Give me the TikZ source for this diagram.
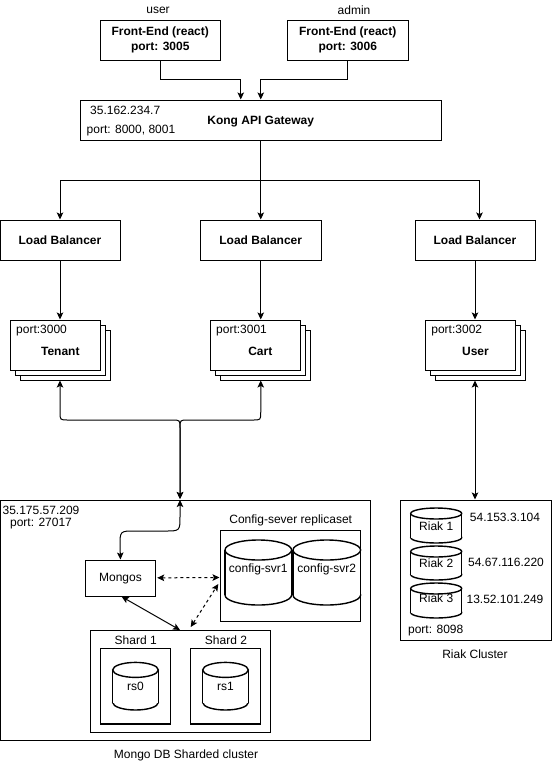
\documentclass[tikz,border=0pt]{standalone}
\usepackage{fontspec}
\setmainfont{Liberation Sans}
\usetikzlibrary{arrows.meta,calc}
\newcommand\boxstrut{\rule{0pt}{12pt}\rule[-3pt]{0pt}{3pt}}
\tikzset{
 box/.style={draw=black,fill=white,line width=1pt,inner sep=0pt,align=center,font=\fontsize{12}{14.5}\selectfont},
 boldbox/.style={box,font=\fontsize{12}{14.5}\selectfont\bfseries,execute at begin node=\boxstrut},
 txt/.style={inner sep=0pt,align=center,font=\fontsize{12}{14}\selectfont},
 boldtxt/.style={txt,font=\fontsize{12}{14}\selectfont\bfseries},
 dbline/.style={draw=black,line width=1.4pt},
 arr/.style={-{Stealth[length=7pt,width=6.5pt,inset=1.5pt]},line width=1pt},
 biarr/.style={{Stealth[length=7pt,width=6.5pt,inset=1.5pt]}-{Stealth[length=7pt,width=6.5pt,inset=1.5pt]},line width=1pt},
 dep/.style={biarr,dashed,dash pattern=on 3pt off 3pt}
}
\begin{document}
\begin{tikzpicture}[x=1pt,y=-1pt]
\useasboundingbox (0,0) rectangle (556,761);
% outer frames
\node[box,minimum width=369.5pt,minimum height=240pt] (mongo) at (185.25,620) {};
\node[box,minimum width=151pt,minimum height=140pt] (riak) at (475.5,570) {};
\node[box,minimum width=140.7pt,minimum height=91pt] (config) at (290.35,575.5) {};
\node[box,minimum width=180pt,minimum height=102pt] (shards) at (180.7,681.3) {};
% plain boxes
\foreach \name/\cx/\cy/\w/\h/\label in {fe1/160.25/40/119.5/40/{Front-End (react)\\port: 3005},fe2/347.75/40/120.5/40/{Front-End (react)\\port: 3006},kong/260.75/120/360.5/40/{Kong API Gateway},lb1/60/240/120/40/{Load Balancer},lb2/260.75/240/120.5/40/{Load Balancer},lb3/475/240/120/40/{Load Balancer}} {
 \node[boldbox,minimum width=\w pt,minimum height=\h pt] (\name) at (\cx,\cy) {\label};
}
\node[box,minimum width=70.4pt,minimum height=36.7pt] (mongos) at (120.5,578.35) {Mongos};
\foreach \name/\cx in {shard1/135.5,shard2/225.5} {
 \node[box,line width=1.2pt,minimum width=70.4pt,minimum height=75.3pt] (\name) at (\cx,686.35) {};
}
% service stacks
\foreach \name/\x/\label/\port in {tenant/10.3/Tenant/3000,cart/210.3/Cart/3001,user/425.5/User/3002} {
 \node[box,minimum width=90pt,minimum height=50pt] (\name back) at ({\x+55},355) {};
 \node[box,minimum width=90pt,minimum height=50pt] (\name mid) at ({\x+50},350) {};
 \node[box,minimum width=90pt,minimum height=50pt] (\name) at ({\x+45},345) {};
 \node[txt,anchor=west] (\name port) at ({\x+5.7},331) {port:\port};
 \node[boldtxt] (\name text) at ({\x+50},351) {\label};
}
% cylinders
\foreach \name/\cx/\cy/\w/\h/\ry/\ty/\label in {svr1/258.3/572.5/66.6/65/10/569/config-svr1,svr2/326.8/572.5/67.6/65/10/569/config-svr2,rs0/135.5/686.2/45.6/47.6/7.5/686.7/rs0,rs1/225.5/686.2/45.6/47.6/7.5/686.7/rs1,riak1/436.2/525.5/51/35/5.5/526.5/Riak 1,riak2/436.2/563/51/34/5.5/563.5/Riak 2,riak3/436.2/600.5/51/35/5.5/598.5/Riak 3} {
 \draw[dbline] (\cx,{\cy+\h/2-\ry}) ellipse [x radius=\w/2,y radius=\ry];
 \fill[white] ({\cx-\w/2},{\cy-\h/2+\ry}) rectangle ({\cx+\w/2},{\cy+\h/2-\ry});
 \draw[dbline] ({\cx-\w/2},{\cy-\h/2+\ry}) -- ({\cx-\w/2},{\cy+\h/2-\ry});
 \draw[dbline] ({\cx+\w/2},{\cy-\h/2+\ry}) -- ({\cx+\w/2},{\cy+\h/2-\ry});
 \draw[dbline,fill=white] (\cx,{\cy-\h/2+\ry}) ellipse [x radius=\w/2,y radius=\ry];
 \node[txt] (\name) at (\cx,\ty) {\label};
}
% free labels
\node[txt] (userlbl) at (158,10.5) {user};
\node[txt] (adminlbl) at (354,10.5) {admin};
\node[txt,anchor=west] (kongip) at (90,110.5) {35.162.234.7};
\node[txt,anchor=west] (kongport) at (86.5,130.5) {port: 8000, 8001};
\node[txt] (mongoip) at (41,510) {35.175.57.209};
\node[txt] (mongoport) at (41,524) {port: 27017};
\node[txt] (configlbl) at (290.7,520.7) {Config-sever replicaset};
\node[txt] (shard1lbl) at (135.7,640) {Shard 1};
\node[txt] (shard2lbl) at (226,640) {Shard 2};
\node[txt] (mongolbl) at (186,755) {Mongo DB Sharded cluster};
\node[txt] (ip1) at (505,517.7) {54.153.3.104};
\node[txt] (ip2) at (506,562) {54.67.116.220};
\node[txt] (ip3) at (505,599) {13.52.101.249};
\node[txt] (riakport) at (435.7,631) {port: 8098};
\node[txt] (riaklbl) at (475,654) {Riak Cluster};
% connectors
\draw[arr] (fe1.south) |- ($(kong.north)+(-20,-20)$) -- ($(kong.north)+(-20,0)$);
\draw[arr] (fe2.south) |- ($(kong.north)+(0,-20)$) -- (kong.north);
\draw[arr] (kong.south) -- (lb2.north);
\draw[arr] ($(kong.south)+(0,40)$) -| (lb1.north);
\draw[arr] ($(kong.south)+(0,40)$) -| ($(lb3.north)+(4.5,0)$);
\foreach \a/\b in {lb1/tenant,lb2/cart,lb3/user} {
 \draw[arr] (\a.south) -- (\a |- \b.north);
}
\coordinate (mongotop) at (180,500);
\draw[biarr] (lb1 |- tenantback.south) -- (60,412) .. controls (60,420) .. (68,420) -- (172,420) .. controls (180,420) .. (180,428) -- ($(mongotop)+(0,-1)$);
\draw[biarr] (lb2 |- cartback.south) -- (260.75,412) .. controls (260.75,420) .. (253,420) -- (188,420) .. controls (180,420) .. (180,428) -- ($(mongotop)+(0,-1)$);
\draw[biarr] (lb3 |- userback.south) -- (lb3 |- riak.north);
\draw[biarr] (mongotop) -- (180,516) .. controls (180,531) .. (165,531) -- (135,531) .. controls (120,531) .. (120,546) -- (mongos.north);
\draw[dep] ($(mongos.east)+(1,-0.5)$) -- (config.west |- 0,577.5);
\coordinate (shardtop) at (190.7,627);
\coordinate (configfoot) at (218.3,584);
\draw[dep] (shardtop) -- (configfoot);
\coordinate (mongosfoot) at (121.7,596.7);
\coordinate (shardin) at (180,630);
\draw[biarr] (mongosfoot) -- (shardin);
\end{tikzpicture}
\end{document}
